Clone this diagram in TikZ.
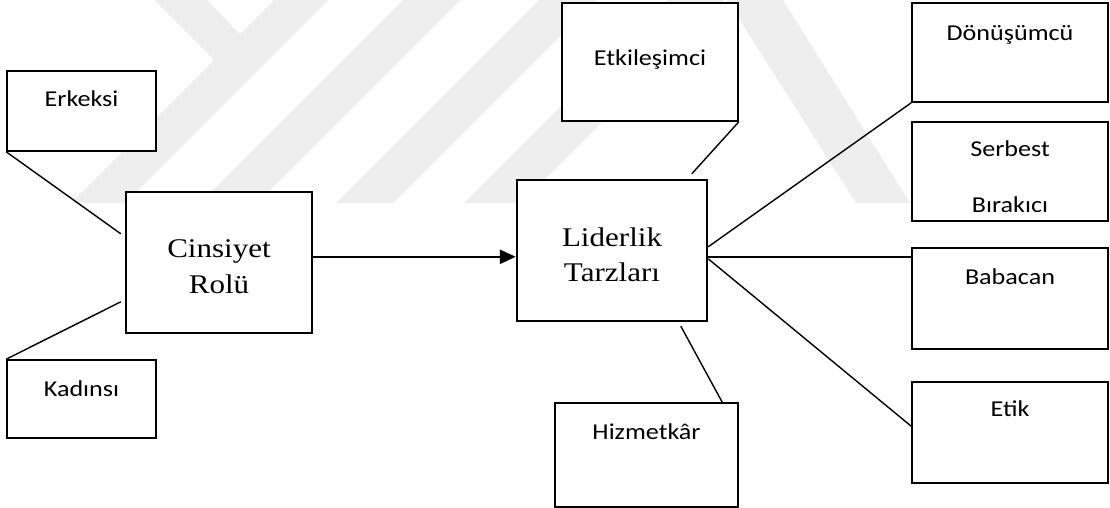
\documentclass[tikz,border=0pt]{standalone}
\usepackage{fontspec}
\setmainfont{Liberation Serif}[FakeStretch=1.15]
\newfontfamily\calibrifont{Carlito}[FakeStretch=1.15]
\usetikzlibrary{arrows.meta,calc}
\definecolor{wm}{gray}{0.935}
\begin{document}
\begin{tikzpicture}[x=1pt,y=-1pt,
  bigbox/.style={draw, fill=white, line width=2.4pt, inner sep=0pt},
  smallbox/.style={draw, fill=white, line width=1.6pt, inner sep=0pt},
  conn/.style={line width=1.4pt},
  arrowline/.style={line width=2.6pt, -{Triangle[length=16pt,width=14pt]}},
  serlbl/.style={font=\fontsize{27}{35}\selectfont, inner sep=0pt, anchor=base},
  callbl/.style={font=\calibrifont\fontsize{22.7}{27}\selectfont, inner sep=0pt, anchor=base},
  wmark/.style={fill=wm, draw=none}]
\useasboundingbox (0,0) rectangle (1110,508);
% watermark
\fill[wmark] (71,203) -- (125,203) -- (328,0) -- (274,0) -- (240,34) -- (207,0) -- (154,0) -- (214,60) -- cycle;
\fill[wmark] (200,203) -- (257,203) -- (460,0) -- (403,0) -- cycle;
\fill[wmark] (336,203) -- (393,203) -- (596,0) -- (539,0) -- cycle;
\fill[wmark] (464,203) -- (521,203) -- (724,0) -- (667,0) -- cycle;
\fill[wmark] (727,0) -- (783,0) -- (910,203) -- (856,203) -- cycle;
% boxes
\node[smallbox, minimum width=149pt, minimum height=80pt] (erk) at (81.5,111) {};
\node[smallbox, minimum width=149pt, minimum height=78pt] (kad) at (81.5,399) {};
\node[bigbox, minimum width=186pt, minimum height=141pt] (cins) at (219,262.5) {};
\node[smallbox, minimum width=176pt, minimum height=118pt] (etk) at (650,62) {};
\node[bigbox, minimum width=190pt, minimum height=141pt] (lid) at (612,250.5) {};
\node[smallbox, minimum width=183pt, minimum height=104pt] (hiz) at (646.5,455) {};
\node[smallbox, minimum width=196pt, minimum height=99pt] (don) at (1010,52.5) {};
\node[smallbox, minimum width=196pt, minimum height=99pt] (ser) at (1010,171.5) {};
\node[smallbox, minimum width=196pt, minimum height=101pt] (bab) at (1010,298.5) {};
\node[smallbox, minimum width=196pt, minimum height=101pt] (etik) at (1010,432.5) {};
% texts
\node[callbl] (terk) at ($(erk.north)+(0,36)$) {Erkeksi};
\node[callbl] (tkad) at ($(kad.north)+(0,37)$) {Kadınsı};
\node[serlbl] (tcins1) at ($(cins.north)+(0,67)$) {Cinsiyet};
\node[serlbl] (tcins2) at ($(cins.north)+(0,103)$) {Rolü};
\node[serlbl] (tlid1) at ($(lid.north)+(0,68)$) {Liderlik};
\node[serlbl] (tlid2) at ($(lid.north)+(0,103)$) {Tarzları};
\node[callbl] (tetk) at ($(etk.north)+(0,63.5)$) {Etkileşimci};
\node[callbl] (thiz) at ($(hiz.north)+(0,37)$) {Hizmetkâr};
\node[callbl] (tdon) at ($(don.north)+(0,38)$) {Dönüşümcü};
\node[callbl] (tser1) at ($(ser.north)+(0,35)$) {Serbest};
\begin{scope}
  \clip ($(ser.north west)$) rectangle ($(ser.south east)+(0,-10.5)$);
  \node[callbl] (tser2) at ($(ser.north)+(0,91)$) {Bırakıcı};
\end{scope}
\node[callbl] (tbab) at ($(bab.north)+(0,37)$) {Babacan};
\node[callbl] (tetik) at ($(etik.north)+(0,35)$) {Etik};
% connectors
\coordinate (cinsA) at ($(cins.north west)+(-4,43)$);
\coordinate (cinsB) at ($(cins.north west)+(-4,111)$);
\draw[conn] (erk.south west) -- (cinsA);
\draw[conn] (cinsB) -- (kad.north west);
\coordinate (lidT) at ($(lid.north west)+(176,-5)$);
\draw[conn] (etk.south east) -- (lidT);
\coordinate (lidB) at ($(lid.south west)+(165,4)$);
\coordinate (hizT) at ($(hiz.north west)+(168,0)$);
\draw[conn] (lidB) -- (hizT);
\coordinate (lidR1) at ($(lid.north east)+(0,68)$);
\coordinate (lidR2) at ($(lid.north east)+(0,78)$);
\coordinate (lidR3) at ($(lid.north east)+(0,80)$);
\coordinate (etikL) at ($(etik.north west)+(0,45)$);
\draw[conn] (lidR1) -- (don.south west);
\draw[conn] (lidR2) -- (bab.west |- lidR2);
\draw[conn] (lidR3) -- (etikL);
\draw[arrowline] (cins.east |- lidR2) -- (lid.west |- lidR2);
\end{tikzpicture}
\end{document}
